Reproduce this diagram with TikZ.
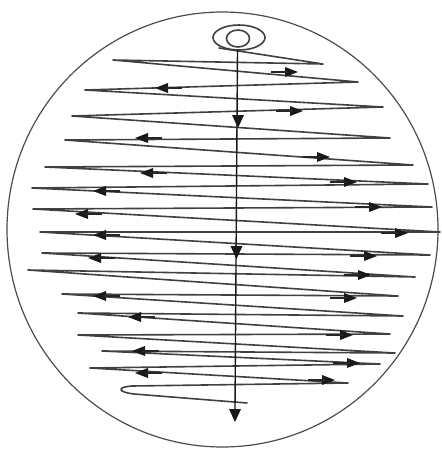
\documentclass[tikz,border=0pt]{standalone}
\usetikzlibrary{arrows.meta}
\begin{document}
\begin{tikzpicture}[x=1pt,y=-1pt,
  rim/.style={draw=black!70,line width=1.2pt},
  streak/.style={draw=black!75,line width=1.6pt,line join=round,line cap=round},
  vline/.style={draw=black!90,line width=1.4pt},
  rarr/.pic={\fill[black!90] (0,0) -- (-13,-5) -- (-13,5) -- cycle;
             \draw[black!85,line width=2.2pt] (-27,0) -- (-10,0);},
  larr/.pic={\fill[black!90] (0,0) -- (13,-5) -- (13,5) -- cycle;
             \draw[black!85,line width=2.2pt] (27,0) -- (10,0);},
  darr/.pic={\fill[black!90] (0,0) -- (-6,-13) -- (6,-13) -- cycle;}]
\useasboundingbox (0,0) rectangle (442,451);
% outer plate
\draw[rim] (222.5,229.5) ellipse [x radius=215.5, y radius=217.5];
% loop at the top
\draw[streak] (239,37.5) ellipse [x radius=26, y radius=12.5];
\draw[streak] (238,38.5) ellipse [x radius=11.5, y radius=8.5];
% zig-zag streak
\draw[streak] (219,48) -- (323,64) -- (113,60) -- (358,82) -- (85,90)
  -- (383,107) -- (72,116) -- (390,138) -- (65,140) -- (413,165)
  -- (45,167) -- (428,184) -- (32,188) -- (432,207) -- (33,209)
  -- (440,232) -- (40,232) -- (430,255) -- (42,253) -- (415,277)
  -- (28,270) -- (398,296) -- (62,294) -- (403,316) -- (78,313)
  -- (390,334) -- (78,335) -- (395,353) -- (102,351) -- (380,364)
  -- (90,368) -- (348,383) -- (132,386)
  .. controls (117,387) and (117,392) .. (134,394) -- (247,403);
% vertical line
\draw[vline] (237.5,50) -- (235,410);
\pic at (238,128) {darr};
\pic at (236.5,259) {darr};
\pic at (235,422) {darr};
% right-pointing arrows
\pic at (298,72) {rarr};
\pic at (303,111) {rarr};
\pic at (330,157) {rarr};
\pic at (357,182) {rarr};
\pic at (382,207) {rarr};
\pic at (408,233) {rarr};
\pic at (377,256) {rarr};
\pic at (371,275) {rarr};
\pic at (357,298) {rarr};
\pic at (353,335) {rarr};
\pic at (360,363) {rarr};
\pic at (335,380) {rarr};
% left-pointing arrows
\pic at (155,88) {larr};
\pic at (135,138) {larr};
\pic at (140,173) {larr};
\pic at (93,191) {larr};
\pic at (75,214) {larr};
\pic at (93,235) {larr};
\pic at (88,258) {larr};
\pic at (93,296) {larr};
\pic at (128,317) {larr};
\pic at (132,351) {larr};
\pic at (135,373) {larr};
\end{tikzpicture}
\end{document}
